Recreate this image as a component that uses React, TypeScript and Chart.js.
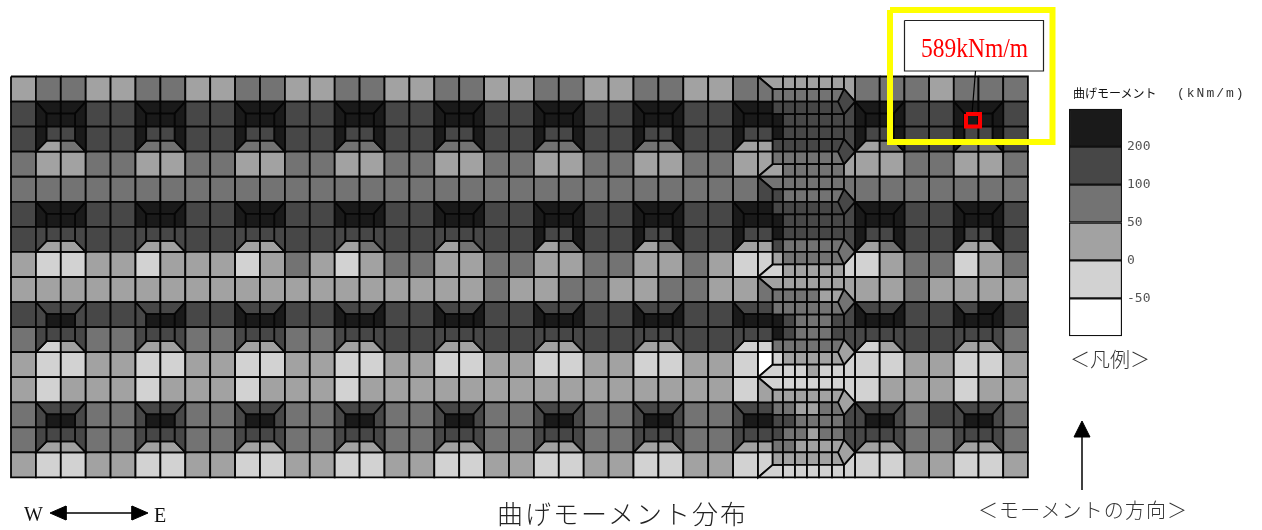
import React, { useEffect, useRef } from "react";
import { Chart, registerables } from "chart.js";

Chart.register(...registerables);

// Representative moments (kNm/m) of the legend's bands
const A = 250, B = 150, C = 75, D = 25, E = -25, F = -75;
const _ = null;

const bandLimits = [200, 100, 50, 0, -50];
const bandColors = ["#1a1a1a", "#474747", "#737373", "#a2a2a2", "#d2d2d2", "#ffffff"];
const legendTicks = ["-50", "0", "50", "100", "200"];
const legendBands = [F, E, D, C, B, A];

// Plain cells, columns 0..29 and 34..40 (null = part of a column head)
const row00 = [D,C,C,D,D,C,C,D,D,C,C,D,D,C,C,D,D,C,C,D,D,C,C,D,D,C,C,D,D,C, C,C,C,D,C,C,C];
const row01 = [B,_,_,B,B,_,_,B,B,_,_,B,B,_,_,B,B,_,_,B,B,_,_,B,B,_,_,B,B,_, _,_,B,B,_,_,B];
const row02 = [B,_,_,B,B,_,_,B,B,_,_,B,B,_,_,B,B,_,_,B,B,_,_,B,B,_,_,B,B,_, _,_,B,B,_,_,B];
const row03 = [C,D,D,C,C,D,D,C,C,D,D,C,C,D,D,C,C,D,D,C,C,D,D,C,C,D,D,C,C,D, D,D,C,C,D,D,C];
const row04 = [C,C,C,C,C,C,C,C,C,C,C,C,C,C,C,C,C,C,C,C,C,C,C,C,C,C,C,C,C,C, C,C,C,C,C,C,C];
const row05 = [B,_,_,B,B,_,_,B,B,_,_,B,B,_,_,B,B,_,_,B,B,_,_,B,B,_,_,B,B,_, _,_,B,B,_,_,B];
const row06 = [B,_,_,B,B,_,_,B,B,_,_,B,B,_,_,B,B,_,_,B,B,_,_,B,B,_,_,B,B,_, _,_,B,B,_,_,B];
const row07 = [D,E,E,D,D,E,D,D,D,E,D,C,D,E,D,C,C,D,D,C,C,D,D,C,C,D,D,C,D,E, E,D,C,C,E,D,C];
const row08 = [D,D,D,D,D,D,D,D,D,D,D,D,D,D,D,D,D,D,D,C,D,D,C,C,D,D,C,C,D,D, D,D,C,D,D,D,D];
const row09 = [B,_,_,B,B,_,_,B,B,_,_,B,B,_,_,B,B,_,_,B,B,_,_,B,B,_,_,B,B,_, _,_,B,B,_,_,B];
const row10 = [C,_,_,C,C,_,_,C,C,_,_,C,C,_,_,B,B,_,_,B,B,_,_,B,B,_,_,B,B,_, _,_,B,B,_,_,C];
const row11 = [D,E,E,D,D,E,E,D,D,E,E,D,D,E,E,D,D,E,E,D,D,E,E,D,D,E,E,D,D,E, E,E,D,D,E,E,D];
const row12 = [D,E,D,D,D,E,D,D,D,E,D,D,D,E,D,D,D,D,D,D,D,D,D,D,D,D,D,D,D,E, E,D,D,D,E,D,D];
const row13 = [C,_,_,C,C,_,_,C,C,_,_,C,C,_,_,C,C,_,_,C,C,_,_,C,C,_,_,C,C,_, _,_,C,B,_,_,C];
const row14 = [C,_,_,C,C,_,_,C,C,_,_,C,C,_,_,C,C,_,_,C,C,_,_,C,C,_,_,C,C,_, _,_,C,C,_,_,C];
const row15 = [D,E,E,D,D,E,E,D,D,E,E,D,D,E,E,D,D,E,E,D,D,E,E,D,D,E,E,D,D,E, E,E,D,D,E,E,D];
const plainRows = [row00,row01,row02,row03,row04,row05,row06,row07,row08,row09,row10,row11,row12,row13,row14,row15];
const plainCols = [0,1,2,3,4,5,6,7,8,9,10,11,12,13,14,15,16,17,18,19,20,21,22,23,24,25,26,27,28,29,34,35,36,37,38,39,40];

// Column heads: first grid column, first grid row of each group
const headCols = [1,5,9,13,17,21,25,29,34,38];
const headRows = [1,5,9,13];
const topL   = [[A,A,A,A,A,A,A,A,A,A],[A,A,A,A,A,A,A,A,A,A],[B,B,B,B,B,B,B,B,B,B],[B,B,B,B,B,B,B,B,B,B]];
const topR   = [[A,A,A,A,A,A,A,A,A,A],[A,A,A,A,A,A,A,A,A,A],[B,B,B,B,B,B,B,B,B,A],[B,B,B,B,B,B,B,B,B,B]];
const leftU  = [[A,A,A,A,A,A,A,A,A,A],[A,A,A,A,A,A,A,A,A,A],[B,B,A,A,A,A,A,A,A,A],[B,B,B,B,B,B,B,B,B,B]];
const leftL  = [[A,A,A,A,A,A,A,A,A,A],[B,B,B,B,B,A,A,A,A,A],[B,B,B,B,B,B,B,B,B,B],[B,B,B,B,B,B,B,B,B,B]];
const rightU = [[A,A,A,A,A,A,A,A,A,A],[A,A,A,A,A,A,A,A,A,A],[B,A,A,A,A,A,A,A,A,A],[B,B,B,B,B,B,B,B,B,B]];
const rightL = [[A,A,A,A,A,A,A,A,A,A],[B,B,B,B,B,A,A,A,A,A],[B,B,B,B,B,B,B,B,B,B],[B,B,B,B,B,B,B,B,B,B]];
const innerTop = [A,A,A,A,A,A,A,A,A,A];
const innerBot = [B,B,B,B,B,B,B,B,B,B];
const botL   = [[D,C,C,C,C,C,C,D,D,C],[D,D,D,D,D,D,D,D,D,D],[E,D,D,D,D,D,D,E,E,D],[D,D,D,D,D,D,D,D,D,D]];
const botR   = [[C,C,C,C,C,C,C,D,C,C],[D,D,D,C,C,C,C,D,C,D],[D,D,D,D,D,D,D,E,D,D],[D,D,D,D,D,D,D,D,D,D]];

// Fine mesh: half rows 0..31, six narrow columns
const fineCells = [
  [_,D,D,D,D,D],[C,C,C,C,C,C],[B,B,B,B,B,B],[A,B,B,B,B,B],
  [A,B,B,B,B,B],[B,B,B,B,B,B],[C,C,C,C,C,C],[_,C,C,C,C,C],
  [_,C,C,C,C,C],[B,C,C,C,C,C],[B,B,B,B,B,B],[A,B,B,B,B,B],
  [A,B,B,B,B,B],[B,C,C,C,C,C],[D,C,C,C,C,C],[_,D,D,D,D,D],
  [_,D,D,D,D,D],[C,C,C,C,D,D],[C,C,C,C,C,C],[A,B,C,C,C,B],
  [A,B,C,C,C,B],[C,C,C,C,C,C],[E,D,D,D,D,D],[_,E,E,D,E,E],
  [_,E,E,E,E,E],[D,D,D,D,D,D],[C,C,D,D,C,C],[B,B,C,C,C,C],
  [B,C,C,D,C,C],[C,C,D,D,D,D],[D,D,D,D,D,D],[_,E,E,E,E,E],
];
const fineX = [761.7,772,784,796,808,821,833,844];
const wedgeUpper = [D,E,F,E];
const wedgeUpperTip = [D,E,E,E];
const wedgeLower = [C,B,C,D];
const wedgeLowerTip = [D,C,D,E];
const stripFirst = D, stripLast = E;
const stripUpper = [B,D,B,E,B,E,B];
const stripLower = [B,C,B,D,B,E,B];
const diamonds = [B,B,B,C,C,D,D,D];

const colW = 24.9, colWR = 24.7, rowH = 25.06, halfH = 12.53;
const insetX = 10.7, insetTop = 12, insetBot = 11;
const OX = 11, OY = 76.5;
const colX = (i: number) => (i <= 30 ? i * colW : 844 + (i - 34) * colWR);
const rowY = (r: number) => r * rowH;
const bandColor = (v: number) => {
  const k = bandLimits.findIndex((l) => v >= l);
  return bandColors[k < 0 ? 5 : k];
};

type Pt = [number, number];

function buildDatasets() {
  const out: any[] = [];
  const lineW = 1.8;
  const poly = (pts: Pt[], v: number | null) => {
    if (v === null) return;
    const closed = [...pts, pts[0]].map(([x, y]) => ({ x, y }));
    out.push({ data: closed, showLine: true, fill: "shape", tension: 0, pointRadius: 0,
      backgroundColor: bandColor(v), borderColor: "#060606", borderWidth: lineW, borderJoinStyle: "miter" });
  };
  // plain cells
  plainRows.forEach((row, r) => row.forEach((v, k) => {
    const c = plainCols[k];
    const x0 = colX(c), x1 = colX(c + 1), y0 = rowY(r), y1 = rowY(r + 1);
    poly([[x0, y0], [x1, y0], [x1, y1], [x0, y1]], v);
  }));
  // column heads
  headRows.forEach((r, g) => headCols.forEach((c, h) => {
    const mesh = c === 29;
    const x0 = colX(c), xm = colX(c + 1), x1 = mesh ? fineX[0] : colX(c + 2);
    const y0 = rowY(r), ym = rowY(r + 1), y1 = rowY(r + 2);
    const ix0 = x0 + insetX, ix1 = mesh ? x1 : x1 - insetX, iy0 = y0 + insetTop, iy1 = y1 - insetBot;
    poly([[x0, y0], [xm, y0], [xm, iy0], [ix0, iy0]], topL[g][h]);
    poly([[xm, y0], [x1, y0], [ix1, iy0], [xm, iy0]], topR[g][h]);
    poly([[ix0, iy1], [xm, iy1], [xm, y1], [x0, y1]], botL[g][h]);
    poly([[xm, iy1], [ix1, iy1], [x1, y1], [xm, y1]], botR[g][h]);
    poly([[x0, y0], [ix0, iy0], [ix0, ym], [x0, ym]], leftU[g][h]);
    poly([[x0, ym], [ix0, ym], [ix0, iy1], [x0, y1]], leftL[g][h]);
    if (!mesh) {
      poly([[x1, y0], [x1, ym], [ix1, ym], [ix1, iy0]], rightU[g][h]);
      poly([[ix1, ym], [x1, ym], [x1, y1], [ix1, iy1]], rightL[g][h]);
    }
    poly([[ix0, iy0], [xm, iy0], [xm, ym], [ix0, ym]], innerTop[h]);
    poly([[xm, iy0], [ix1, iy0], [ix1, ym], [xm, ym]], innerTop[h]);
    poly([[ix0, ym], [xm, ym], [xm, iy1], [ix0, iy1]], innerBot[h]);
    poly([[xm, ym], [ix1, ym], [ix1, iy1], [xm, iy1]], innerBot[h]);
  }));
  // plain cell of the narrow column, and its wedges
  const x30 = colX(30), f0 = fineX[0], f1 = fineX[1];
  for (let k = 0; k < 4; k++) {
    const y = rowY(4 * k), yn = rowY(4 * k + 1);
    poly([[x30, y], [f1, y], [f1, y + halfH], [f0, y + halfH]], wedgeLowerTip[k]);
    poly([[x30, y], [f0, y + halfH], [f0, yn], [x30, yn]], wedgeLower[k]);
    const z = rowY(4 * k + 4), zp = rowY(4 * k + 3);
    poly([[x30, zp], [f0, zp], [f0, z - halfH], [x30, z]], wedgeUpper[k]);
    poly([[x30, z], [f0, z - halfH], [f1, z - halfH], [f1, z]], wedgeUpperTip[k]);
  }
  // fine mesh
  fineCells.forEach((row, h) => row.forEach((v, i) => {
    const x0 = fineX[i], x1 = fineX[i + 1], y0 = h * halfH, y1 = (h + 1) * halfH;
    poly([[x0, y0], [x1, y0], [x1, y1], [x0, y1]], v);
  }));
  // strip beside the fine mesh, with diamonds on the grid lines
  const s0 = fineX[6], s1 = fineX[7];
  poly([[s0, 0], [s1, 0], [s1, rowY(1)], [s0, rowY(1) - halfH]], stripFirst);
  poly([[s0, rowY(15) + halfH], [s1, rowY(15)], [s1, rowY(16)], [s0, rowY(16)]], stripLast);
  stripUpper.forEach((v, k) => {
    const yc = rowY(2 * k + 1), ym = rowY(2 * k + 2), yn = rowY(2 * k + 3);
    poly([[s1, yc], [s0, yc + halfH], [s0, ym], [s1, ym]], v);
    poly([[s0, ym], [s1, ym], [s1, yn], [s0, yn - halfH]], stripLower[k]);
  });
  diamonds.forEach((v, k) => {
    const yc = rowY(2 * k + 1);
    poly([[s0, yc - halfH], [s1, yc], [s0, yc + halfH], [s0 - 6, yc]], v);
  });
  // call-out
  const rect = (x0: number, y0: number, x1: number, y1: number, color: string, w: number, fillColor?: string) => {
    const pts = [[x0, y0], [x1, y0], [x1, y1], [x0, y1], [x0, y0]].map(([x, y]) => ({ x: x - OX, y: y - OY }));
    out.push({ data: pts, showLine: true, fill: fillColor ? "shape" : false, tension: 0, pointRadius: 0,
      backgroundColor: fillColor || "transparent", borderColor: color, borderWidth: w, borderJoinStyle: "miter" });
  };
  const seg = (pts: Pt[], w: number, fillIt = false) => {
    out.push({ data: pts.map(([x, y]) => ({ x: x - OX, y: y - OY })), showLine: true, fill: fillIt ? "shape" : false,
      tension: 0, pointRadius: 0, backgroundColor: "#000", borderColor: "#000", borderWidth: w });
  };
  rect(890, 10, 1052.5, 142, "#ffff00", 6);
  rect(904.5, 20.5, 1043.5, 71, "#222", 1.2, "#ffffff");
  seg([[975.5, 71], [972, 114]], 1.2);
  rect(966, 114, 980, 126.5, "#ff0000", 4);
  // direction arrows
  seg([[66, 513], [132, 513]], 1.5);
  seg([[50, 513], [66, 506], [66, 520], [50, 513]], 1, true);
  seg([[148, 513], [132, 506], [132, 520], [148, 513]], 1, true);
  seg([[1082, 490], [1082, 436]], 1.5);
  seg([[1082, 421], [1074, 437], [1090, 437], [1082, 421]], 1, true);
  return out.reverse();
}

const label = (text: string, x: number, y: number, style: React.CSSProperties) => (
  <div style={{ position: "absolute", left: x, top: y, transform: "translateY(-50%)", whiteSpace: "nowrap", lineHeight: 1, ...style }}>{text}</div>
);

const CJK = '"Noto Sans CJK JP", sans-serif';

export default function App() {
  const mainRef = useRef<HTMLCanvasElement>(null);
  const legendRef = useRef<HTMLCanvasElement>(null);
  useEffect(() => {
    const main = new Chart(mainRef.current!, {
      type: "scatter",
      data: { datasets: buildDatasets() },
      options: {
        animation: false, responsive: false, events: [],
        layout: { padding: 0 },
        plugins: { legend: { display: false }, tooltip: { enabled: false } },
        scales: {
          x: { type: "linear", display: false, min: -OX, max: 1262 - OX },
          y: { type: "linear", display: false, reverse: true, min: -OY, max: 530 - OY },
        },
      },
    });
    const legend = new Chart(legendRef.current!, {
      type: "bar",
      data: {
        labels: ["band"],
        datasets: legendBands.map((v) => ({
          data: [1], backgroundColor: bandColor(v), borderColor: "#111", borderWidth: 1.5,
          borderSkipped: false, barPercentage: 1, categoryPercentage: 1, stack: "s",
        })),
      },
      options: {
        animation: false, responsive: false, events: [],
        layout: { padding: { left: 9, top: 5, bottom: 6, right: 0 } },
        plugins: { legend: { display: false }, tooltip: { enabled: false } },
        scales: {
          x: { display: false, stacked: true },
          y: {
            position: "right", stacked: true, min: 0, max: 6,
            grid: { display: false, drawTicks: false }, border: { display: false },
            afterFit: (s: any) => { s.width = 58; },
            ticks: {
              stepSize: 1, padding: 5, color: "#555", autoSkip: false, maxRotation: 0,
              font: { family: '"DejaVu Sans Mono", monospace', size: 13 },
              callback: (v: any) => legendTicks[Number(v) - 1] ?? "",
            },
          },
        },
      },
    });
    return () => { main.destroy(); legend.destroy(); };
  }, []);
  return (
    <div style={{ position: "absolute", left: 0, top: 0, width: 1262, height: 530, overflow: "hidden", background: "#fff" }}>
      <canvas ref={mainRef} width={1262} height={530} style={{ position: "absolute", left: 0, top: 0, display: "block" }} />
      <canvas ref={legendRef} width={120} height={253} style={{ position: "absolute", left: 1060, top: 96, display: "block" }} />
      {label("589kNm/m", 921, 48, { fontFamily: '"Liberation Serif", serif', fontSize: 27, color: "#ff0000", transform: "translateY(-50%) scaleX(0.87)", transformOrigin: "left center" })}
      {label("曲げモーメント", 1073, 93, { fontFamily: CJK, fontSize: 12, color: "#111" })}
      {label("(kNm/m)", 1177, 93, { fontFamily: '"Liberation Mono", monospace', fontSize: 13, letterSpacing: 2, color: "#333" })}
      {label("＜凡例＞", 1070, 359, { fontFamily: CJK, fontSize: 20, color: "#333", fontWeight: 300 })}
      {label("W", 24, 514, { fontFamily: '"Liberation Serif", serif', fontSize: 20, color: "#111" })}
      {label("E", 154, 515, { fontFamily: '"Liberation Serif", serif', fontSize: 20, color: "#111" })}
      {label("曲げモーメント分布", 497, 513, { fontFamily: CJK, fontSize: 26, letterSpacing: 2, color: "#222", fontWeight: 300 })}
      {label("＜モーメントの方向＞", 978, 510, { fontFamily: CJK, fontSize: 20, letterSpacing: 1.1, color: "#333", fontWeight: 300 })}
    </div>
  );
}
